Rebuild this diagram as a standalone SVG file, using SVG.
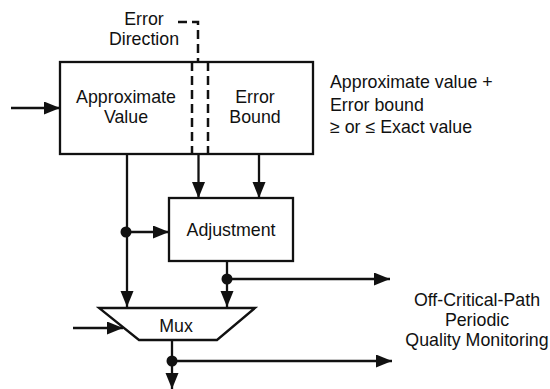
<svg xmlns="http://www.w3.org/2000/svg" width="550" height="389" viewBox="0 0 550 389">
<style>
text{font-family:"Liberation Sans",Arial,sans-serif;font-size:17.8px;fill:#111}
.c{text-anchor:middle}
.box{fill:#fff;stroke:#111;stroke-width:2.3}
.ln{fill:none;stroke:#111;stroke-width:2.3}
.ar{fill:none;stroke:#111;stroke-width:2.3;marker-end:url(#ah)}
.dash{fill:none;stroke:#111;stroke-width:2.5;stroke-dasharray:9 5}
.dot{fill:#111}
</style>
<defs>
<marker id="ah" markerUnits="userSpaceOnUse" markerWidth="17" markerHeight="14" refX="16" refY="6.5" orient="auto">
<path d="M0,0 L16,6.5 L0,13 z" fill="#111"/>
</marker>
</defs>
<g id="main">
<rect class="box" x="60" y="62" width="253" height="92"/>
<line class="dash" x1="192" y1="62" x2="192" y2="154"/>
<line class="dash" x1="208" y1="62" x2="208" y2="154"/>
<text class="c" x="126" y="103">Approximate</text>
<text class="c" x="126" y="123">Value</text>
<text class="c" x="255" y="103">Error</text>
<text class="c" x="255" y="123">Bound</text>
</g>
<g id="errdir">
<text class="c" x="144" y="25">Error</text>
<text class="c" x="144" y="45">Direction</text>
<path class="dash" d="M178,22 H198 V62"/>
</g>
<g id="adjust">
<rect class="box" x="169" y="198" width="124" height="63"/>
<text class="c" x="231" y="236">Adjustment</text>
</g>
<g id="mux">
<polygon class="box" points="99,308 255,308 217,340 139,340"/>
<text class="c" x="176" y="332">Mux</text>
</g>
<g id="note">
<text x="330" y="88">Approximate value +</text>
<text x="330" y="111">Error bound</text>
<text x="330" y="133">≥ or ≤ Exact value</text>
</g>
<g id="monitor">
<text class="c" x="477" y="306">Off-Critical-Path</text>
<text class="c" x="477" y="326">Periodic</text>
<text class="c" x="477" y="346">Quality Monitoring</text>
</g>
<g id="connectors">
<line class="ar" x1="11" y1="108" x2="60" y2="108"/>
<line class="ar" x1="127" y1="154" x2="127" y2="307"/>
<line class="ar" x1="198.5" y1="154" x2="198.5" y2="198"/>
<line class="ar" x1="259" y1="154" x2="259" y2="198"/>
<circle class="dot" cx="126" cy="232" r="5.5"/>
<line class="ar" x1="126" y1="232" x2="169" y2="232"/>
<line class="ar" x1="227" y1="261" x2="227" y2="307"/>
<circle class="dot" cx="227" cy="279" r="5.5"/>
<line class="ar" x1="227" y1="279" x2="390" y2="279"/>
<line class="ar" x1="73" y1="328" x2="123" y2="328"/>
<line class="ar" x1="172" y1="340" x2="172" y2="389"/>
<circle class="dot" cx="172" cy="361" r="5.5"/>
<line class="ar" x1="172" y1="361" x2="392" y2="361"/>
</g>
</svg>
